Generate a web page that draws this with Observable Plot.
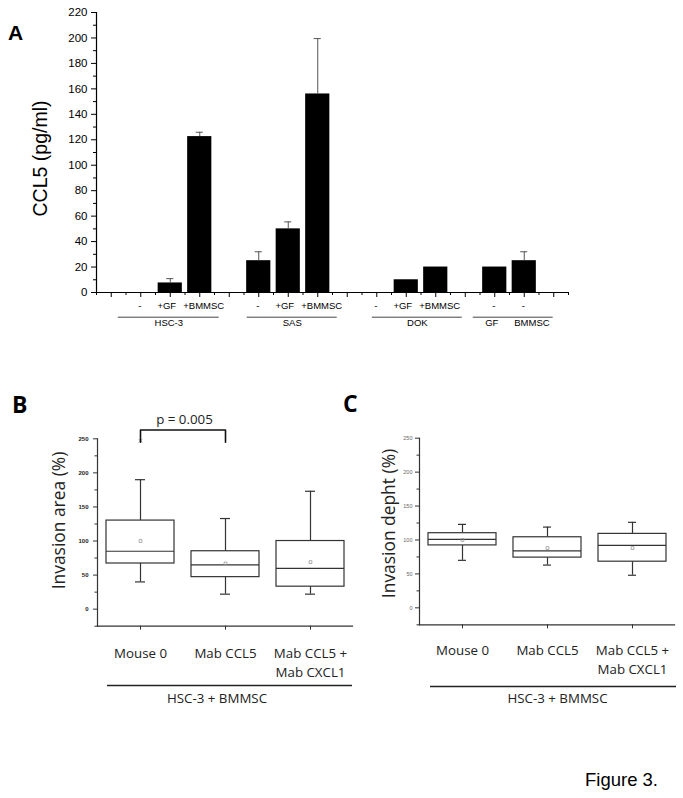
<!DOCTYPE html>
<html><head><meta charset="utf-8">
<script src="https://cdn.jsdelivr.net/npm/d3@7"></script>
<script src="https://cdn.jsdelivr.net/npm/@observablehq/plot@0.6"></script>
<style>
body{margin:0;background:#fff;}
#fig{position:relative;width:683px;height:798px;overflow:hidden;background:#fff;}
.panel{position:absolute;}
.panel svg{overflow:visible;}
.lbl{position:absolute;line-height:1;white-space:nowrap;color:#000;}
</style></head><body><div id="fig"></div>
<script>
// ---------- Panel A data ----------
const cellLines = ["HSC-3", "SAS", "DOK"];
const conditions = ["-", "+GF", "+BMMSC"];
const ccl5HSC3 = [0, 7.5, 122.5];
const errHSC3 = [0, 3.4, 3.4];
const ccl5SAS = [25, 50, 156];
const errSAS = [7, 5.5, 43.5];
const ccl5DOK = [0, 10, 20];
const errDOK = [0, 0, 0];
const mediumNames = ["GF", "BMMSC"];
const mediumConditions = ["-", "-"];
const ccl5Medium = [20, 25];
const errMedium = [0, 7];
const yTicksA = [0, 20, 40, 60, 80, 100, 120, 140, 160, 180, 200, 220];
const yLabelA = "CCL5 (pg/ml)";

// ---------- Panels B & C data ----------
const groupsBC = ["Mouse 0", "Mab CCL5", "Mab CCL5 +\nMab CXCL1"];
const areaMin = [40, 22, 22];
const areaQ1 = [67, 47, 33];
const areaMedian = [85, 65, 60];
const areaQ3 = [130, 85, 100];
const areaMax = [190, 133, 173];
const areaMean = [100, 67, 69];
const areaExtremeGroup = ["Mouse 0"];
const areaExtremeValue = [247];
const depthMin = [70, 63, 48];
const depthQ1 = [92, 74, 68];
const depthMedian = [101, 84, 92];
const depthQ3 = [110, 104, 109];
const depthMax = [123, 119, 126];
const depthMean = [100, 88, 88];
const yTicksBC = [0, 50, 100, 150, 200, 250];
const yMinorBC = [-25, 25, 75, 125, 175, 225];
const pairB = ["Mouse 0", "Mab CCL5"];
const pText = "p = 0.005";
const groupTitle = "HSC-3 + BMMSC";
const yLabelB = "Invasion area (%)";
const yLabelC = "Invasion depht (%)";

// ---------- build tables ----------
const seriesA = [ccl5HSC3, ccl5SAS, ccl5DOK];
const errA = [errHSC3, errSAS, errDOK];
const bars = [];
cellLines.forEach((g, gi) => conditions.forEach((c, i) =>
  bars.push({slot: 1 + 4 * gi + i, group: g, cond: c, value: seriesA[gi][i], err: errA[gi][i]})));
mediumNames.forEach((m, i) =>
  bars.push({slot: 13 + i, group: m, cond: mediumConditions[i], value: ccl5Medium[i], err: errMedium[i]}));
// underline extents (layout padding around each group's slots)
const spanPad = [[0.76, 0.66], [0.39, 0.66], [0.15, 0.9]];
const spans = cellLines.map((g, gi) => ({x1: 1 + 4 * gi - spanPad[gi][0], x2: 3 + 4 * gi + spanPad[gi][1]}));
spans.push({x1: 13 - 0.73, x2: 14 + 0.98});
const names = cellLines.map((g, gi) => ({x: (spans[gi].x1 + spans[gi].x2) / 2, name: g}))
  .concat(mediumNames.map((m, i) => ({x: 13 + i + (i === 0 ? -0.1 : 0.26), name: m})));
const slotTicks = d3.range(0, 16);
const halfTicks = d3.range(-0.5, 15.6, 1);
const yMinorA = d3.range(10, 220, 20);

const fig = document.getElementById("fig");
function place(node, left, top, w) {
  const d = document.createElement("div");
  d.className = "panel";
  d.style.left = left + "px"; d.style.top = top + "px"; d.style.width = w + "px";
  d.appendChild(node); fig.appendChild(d);
}
function label(text, left, top, size, family, weight) {
  const d = document.createElement("div");
  d.className = "lbl";
  d.textContent = text;
  Object.assign(d.style, {left: left + "px", top: top + "px", fontSize: size + "px", fontFamily: family, fontWeight: weight});
  fig.appendChild(d);
}

// ---------- Panel A ----------
const errs = bars.filter(d => d.err > 0);
const condShift = {"-": -1, "+GF": -3.5, "+BMMSC": 4};
const plotA = Plot.plot({
  width: 683, height: 340,
  marginLeft: 96, marginRight: 115, marginTop: 12, marginBottom: 48,
  x: {type: "linear", domain: [-0.5, 15.5], label: null},
  y: {domain: [0, 220], label: null},
  style: {fontFamily: "'Liberation Sans', Arial, sans-serif", background: "transparent", color: "#000"},
  marks: [
    Plot.ruleX([-0.5], {stroke: "#000", strokeWidth: 1.2}),
    Plot.ruleY([0], {stroke: "#000", strokeWidth: 1.2}),
    Plot.axisY(yTicksA, {tickSize: 5, tickPadding: 4, fontSize: 11.5, label: null}),
    Plot.axisY(yMinorA, {tickSize: 3, tickFormat: () => "", label: null}),
    Plot.axisX(slotTicks, {tickSize: 5, tickFormat: () => "", label: null}),
    Plot.axisX(halfTicks, {tickSize: 3, tickFormat: () => "", label: null}),
    Plot.rectY(bars.filter(d => d.value > 0), {x1: d => d.slot - 0.41, x2: d => d.slot + 0.41, y1: 0, y2: "value", fill: "#000"}),
    Plot.ruleX(errs, {x: "slot", y1: "value", y2: d => d.value + d.err, stroke: "#555"}),
    Plot.ruleY(errs, {y: d => d.value + d.err, x1: d => d.slot - 0.12, x2: d => d.slot + 0.12, stroke: "#555"}),
    ...Object.keys(condShift).map(c =>
      Plot.text(bars.filter(d => d.cond === c), {x: "slot", text: "cond", frameAnchor: "bottom", dy: 16.5, dx: condShift[c], fontSize: 9.5})),
    Plot.ruleY(spans, {x1: "x1", x2: "x2", y: 0, dy: 24.7, stroke: "#444"}),
    Plot.text(names, {x: "x", text: "name", frameAnchor: "bottom", dy: 33, fontSize: 9.5}),
    Plot.text([yLabelA], {frameAnchor: "left", textAnchor: "middle", rotate: -90, dx: -56, dy: 6, fontSize: 19.5})
  ]
});
place(plotA, 0, 0, 683);

// ---------- box panels ----------
function rowsOf(mn, q1, md, q3, mx, mean) {
  return groupsBC.map((g, i) => ({group: g, min: mn[i], q1: q1[i], median: md[i], q3: q3[i], max: mx[i], mean: mean[i]}));
}
function boxPanel(c) {
  const rows = c.rows;
  const stroke = "#333";
  return Plot.plot({
    width: c.width, height: c.height,
    marginLeft: c.marginLeft, marginRight: c.marginRight, marginTop: c.marginTop, marginBottom: c.marginBottom,
    x: {type: "band", domain: groupsBC, paddingInner: 0.2, paddingOuter: 0.1, label: null},
    y: {domain: [-25, 250], label: null},
    style: {fontFamily: "'Open Sans', sans-serif", background: "transparent", color: "#222"},
    marks: [
      Plot.frame({anchor: "left", stroke: stroke, strokeWidth: 1.2}),
      Plot.frame({anchor: "bottom", stroke: stroke, strokeWidth: 1.2}),
      Plot.axisY(yTicksBC, {tickSize: 4, tickPadding: c.tickPad, fontSize: c.tickFont, fontWeight: c.tickWeight,
        fill: c.tickColor, stroke: stroke, fontFamily: "'Liberation Sans', Arial, sans-serif", label: null}),
      Plot.axisY(yMinorBC, {tickSize: 2.5, tickFormat: () => "", stroke: stroke, label: null}),
      Plot.axisX({tickSize: 4, tickPadding: c.catPad, fontSize: 13.3, lineHeight: 1.45, stroke: stroke, fill: "#222", label: null}),
      Plot.ruleX(rows, {x: "group", y1: "q3", y2: "max", stroke: stroke, strokeWidth: 1.2}),
      Plot.ruleX(rows, {x: "group", y1: "min", y2: "q1", stroke: stroke, strokeWidth: 1.2}),
      Plot.tickY(rows, {x: "group", y: "max", inset: c.capInset, stroke: stroke, strokeWidth: 1.2}),
      Plot.tickY(rows, {x: "group", y: "min", inset: c.capInset, stroke: stroke, strokeWidth: 1.2}),
      Plot.barY(rows, {x: "group", y1: "q1", y2: "q3", fill: "white", stroke: stroke, strokeWidth: 1.2}),
      Plot.tickY(rows, {x: "group", y: "median", stroke: stroke, strokeWidth: 1.2}),
      Plot.dot(rows, {x: "group", y: "mean", symbol: "square", r: 1.6, stroke: "#999", strokeWidth: 0.8, fill: "none"}),
      ...(c.extra || []),
      Plot.ruleY([-25], {dy: c.lineDy, insetLeft: c.lineInsetLeft, insetRight: c.lineInsetRight, stroke: "#222", strokeWidth: 1.3}),
      Plot.text([groupTitle], {frameAnchor: "bottom", dy: c.groupDy, dx: c.groupDx, fontSize: 13.3, fill: "#222"}),
      Plot.text([c.yLabel], {frameAnchor: "left", textAnchor: "middle", rotate: -90, dx: c.labelDx, dy: c.labelDy, fontSize: 17.4, fill: "#222"})
    ]
  });
}

const extremes = areaExtremeGroup.map((g, i) => ({group: g, value: areaExtremeValue[i]}));
const bracket = [
  {group: pairB[0], y: 245}, {group: pairB[0], y: 263},
  {group: pairB[1], y: 263}, {group: pairB[1], y: 245}
];
const plotB = boxPanel({
  rows: rowsOf(areaMin, areaQ1, areaMedian, areaQ3, areaMax, areaMean),
  width: 360, height: 320, marginLeft: 97, marginRight: 8, marginTop: 38.3, marginBottom: 94.3,
  tickPad: 5, tickFont: 6, tickWeight: "bold", tickColor: "#222",
  catPad: 14, capInset: 29, lineDy: 59.3, lineInsetLeft: 10, lineInsetRight: 0,
  groupDy: 76.3, groupDx: -8, yLabel: yLabelB, labelDx: -38, labelDy: -12,
  extra: [
    Plot.dot(extremes, {x: "group", y: "value", symbol: "times", r: 1.5, stroke: "#777", strokeWidth: 0.8}),
    Plot.line(bracket, {x: "group", y: "y", stroke: "#111", strokeWidth: 1.6, curve: "linear"}),
    Plot.text([pText], {x: () => pairB[0], y: () => 278.4, dx: 44, fontSize: 13.3, fill: "#222"})
  ]
});
place(plotB, 0, 400, 360);

const plotC = boxPanel({
  rows: rowsOf(depthMin, depthQ1, depthMedian, depthQ3, depthMax, depthMean),
  width: 323, height: 320, marginLeft: 59, marginRight: 9, marginTop: 37.7, marginBottom: 95.7,
  tickPad: 3, tickFont: 5.5, tickWeight: "normal", tickColor: "#666",
  catPad: 12.5, capInset: 30, lineDy: 61.7, lineInsetLeft: 11, lineInsetRight: -2,
  groupDy: 77.7, groupDx: 10.5, yLabel: yLabelC, labelDx: -30.3, labelDy: -8
});
place(plotC, 360, 400, 323);

// ---------- panel letters & caption ----------
label("A", 8, 22.2, 21, "'Liberation Sans', Arial, sans-serif", "bold");
label("B", 12, 392.6, 23, "'Open Sans', sans-serif", "bold");
label("C", 343, 391.6, 23, "'Open Sans', sans-serif", "bold");
label("Figure 3.", 585, 771, 18.5, "'Liberation Sans', Arial, sans-serif", "normal");
</script>
</body></html>
